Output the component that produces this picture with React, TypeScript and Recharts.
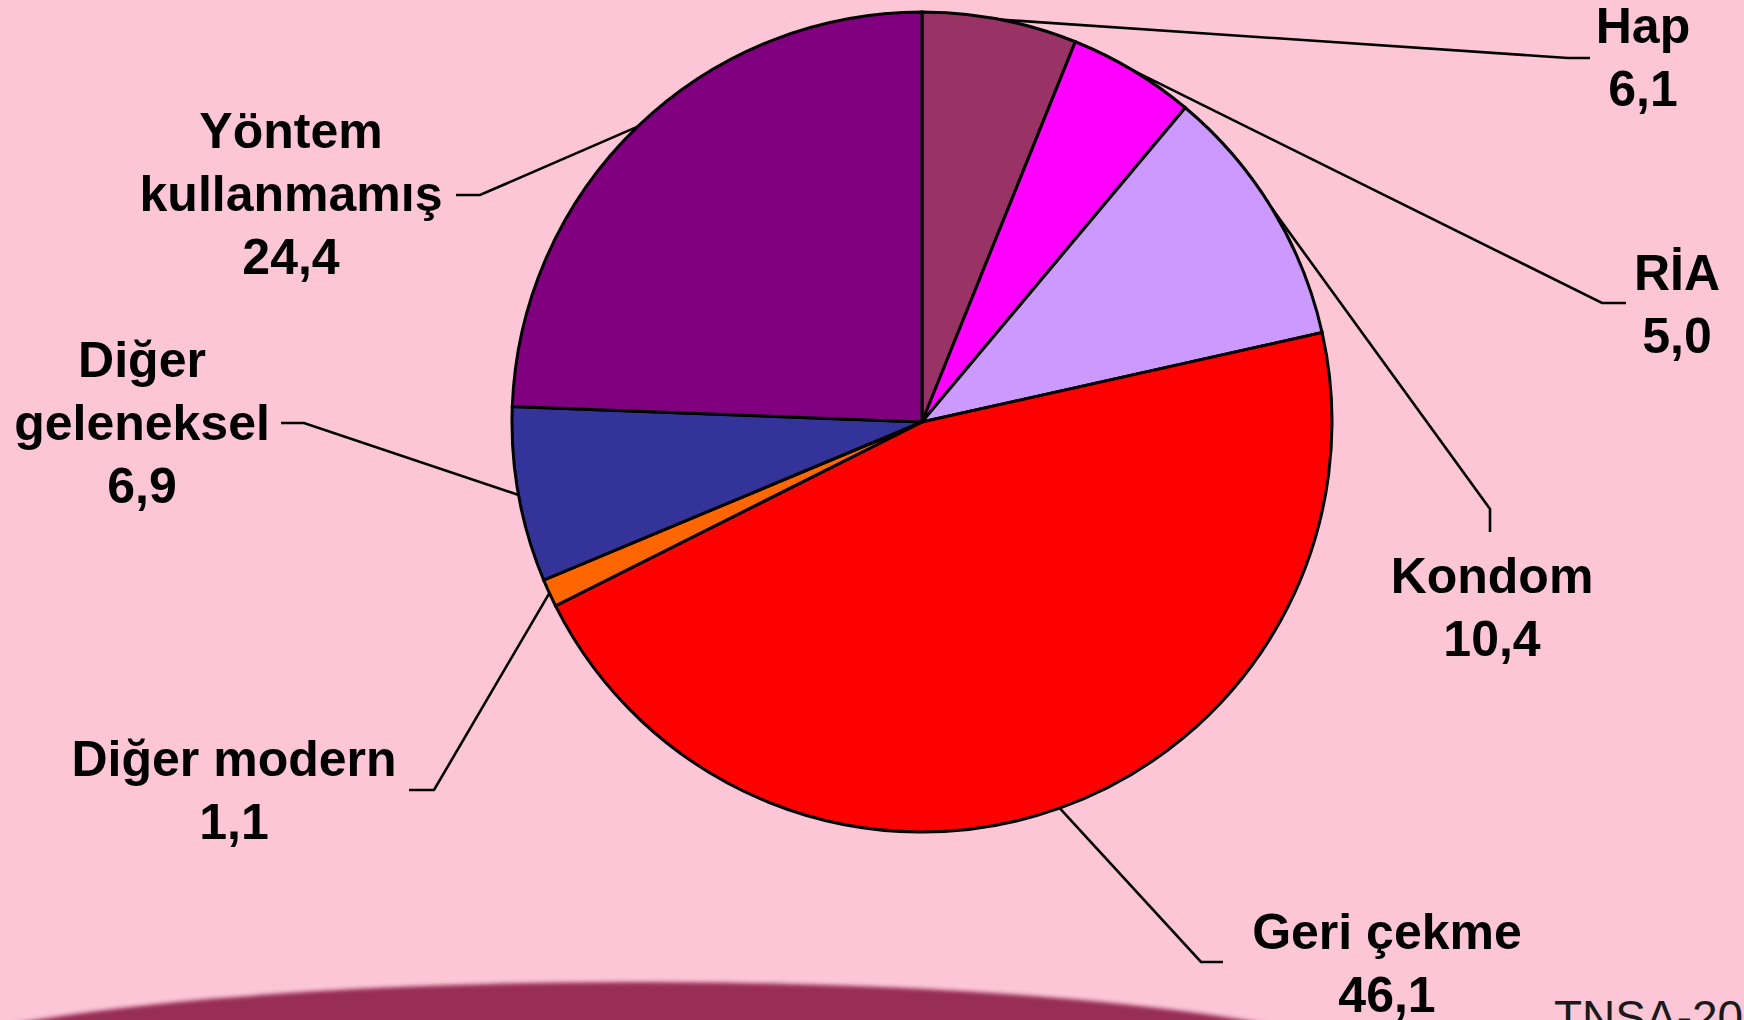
import { PieChart, Pie, Cell } from 'recharts';

const methods = ['Hap', 'RİA', 'Kondom', 'Geri çekme', 'Diğer modern', 'Diğer geleneksel', 'Yöntem kullanmamış'];
const shares = [6.1, 5.0, 10.4, 46.1, 1.1, 6.9, 24.4];
const sliceColors = ['#993366', '#ff00ff', '#cc99ff', '#ff0000', '#ff6600', '#333399', '#800080'];

const data = methods.map((name, i) => ({ name, value: shares[i] }));

// where each label sits and how its leader line bends (page px)
const labelLayout = [
  { x: 1643, y: 43, wrap: false, elbow: [1568, 58], end: [1590, 58] },
  { x: 1677, y: 290, wrap: false, elbow: [1602, 303], end: [1626, 303] },
  { x: 1492, y: 593, wrap: false, elbow: [1490, 509], end: [1490, 532] },
  { x: 1387, y: 949, wrap: false, elbow: [1201, 962], end: [1223, 962] },
  { x: 234, y: 776, wrap: false, elbow: [434, 790], end: [409, 790] },
  { x: 142, y: 377, wrap: true, elbow: [304, 423], end: [281, 423] },
  { x: 291, y: 148, wrap: true, elbow: [480, 195], end: [456, 195] },
];

const RADIAN = Math.PI / 180;
const LINE_H = 63;
const font = '"Liberation Sans", Arial, sans-serif';

const renderLabel = (props: any) => {
  const { cx, cy, midAngle, outerRadius, index, name, value } = props;
  const lay = labelLayout[index];
  const sx = cx + outerRadius * Math.cos(-midAngle * RADIAN);
  const sy = cy + outerRadius * Math.sin(-midAngle * RADIAN);
  const cut = name.indexOf(' ');
  const nameLines = lay.wrap ? [name.slice(0, cut), name.slice(cut + 1)] : [name];
  const lines = [...nameLines, Number(value).toFixed(1).replace('.', ',')];
  return (
    <g>
      <polyline
        points={`${sx},${sy} ${lay.elbow[0]},${lay.elbow[1]} ${lay.end[0]},${lay.end[1]}`}
        fill="none"
        stroke="#000"
        strokeWidth={2.6}
      />
      {lines.map((t, i) => (
        <text
          key={i}
          x={lay.x}
          y={lay.y + i * LINE_H}
          textAnchor="middle"
          fontFamily={font}
          fontWeight="bold"
          fontSize={50}
          fill="#000"
        >
          {t}
        </text>
      ))}
    </g>
  );
};

export default function App() {
  return (
    <div
      style={{
        position: 'absolute',
        top: 0,
        left: 0,
        width: 1744,
        height: 1020,
        overflow: 'hidden',
        background: '#fcc6d7',
      }}
    >
      <svg width={1744} height={1020} style={{ position: 'absolute', top: 0, left: 0 }}>
        <defs>
          <filter id="soft" x="-5%" y="-50%" width="110%" height="200%">
            <feGaussianBlur stdDeviation="2" />
          </filter>
        </defs>
        <ellipse cx={640} cy={1082} rx={770} ry={100} fill="#982e57" filter="url(#soft)" />
        <text x={1554} y={1033} fontFamily={font} fontSize={46} fill="#1a1a1a">
          TNSA-2008
        </text>
      </svg>
      <div style={{ position: 'absolute', top: 0, left: 0 }}>
        <PieChart width={1744} height={1020} margin={{ top: 0, right: 0, bottom: 0, left: 0 }}>
          <Pie
            data={data}
            dataKey="value"
            nameKey="name"
            cx={922}
            cy={422}
            outerRadius={410}
            startAngle={90}
            endAngle={-270}
            stroke="#000"
            strokeWidth={3}
            label={renderLabel}
            labelLine={false}
            isAnimationActive={false}
          >
            {data.map((d, i) => (
              <Cell key={d.name} fill={sliceColors[i]} stroke="#000" strokeWidth={3} />
            ))}
          </Pie>
        </PieChart>
      </div>
    </div>
  );
}
